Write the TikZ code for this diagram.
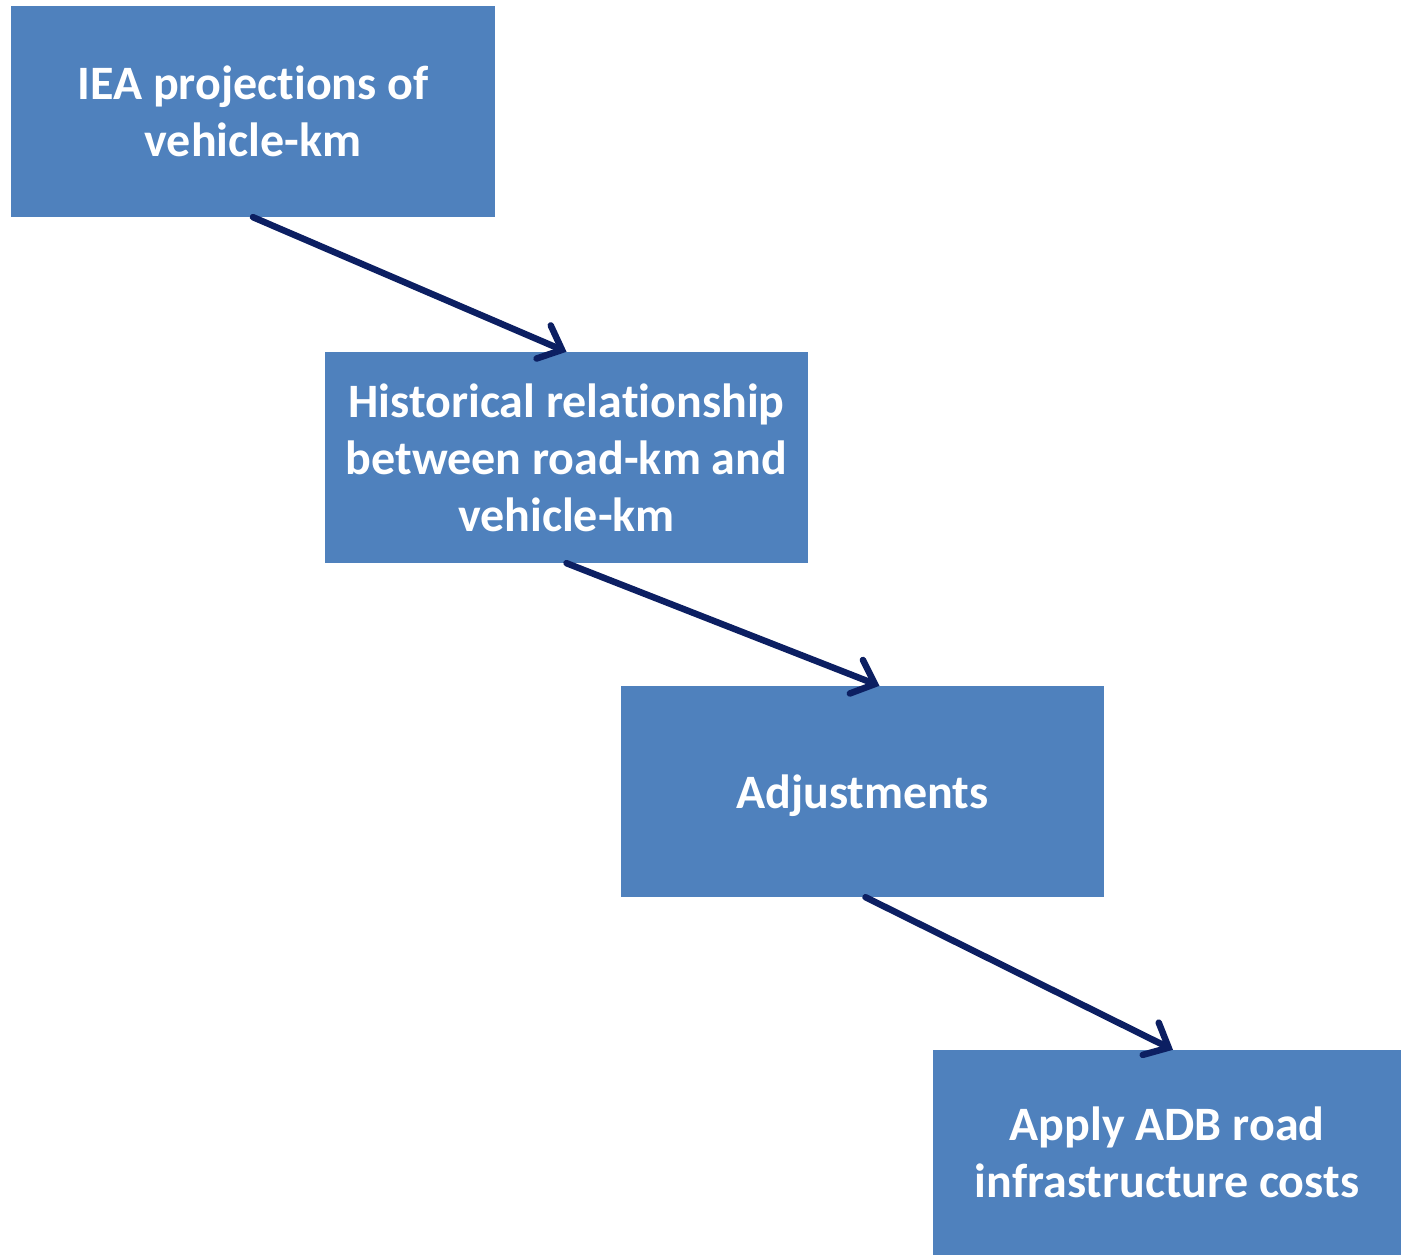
\documentclass[tikz,border=0pt]{standalone}
\usepackage{fontspec}
\setmainfont[Ligatures={NoCommon,NoRare}]{Carlito}
\usetikzlibrary{arrows.meta,calc}
\definecolor{boxblue}{HTML}{4F81BD}
\definecolor{navy}{HTML}{0C1F62}
\begin{document}
\begin{tikzpicture}[x=1pt,y=-1pt,
  box/.style={fill=boxblue,draw=none,inner sep=0pt,text=white,align=center,
    font=\fontsize{48}{57}\selectfont\bfseries},
  conn/.style={draw=navy,line width=6.5pt,line cap=round,
    -{Straight Barb[length=20pt,width=36pt,line width=6.5pt,line cap=round]}}]
\useasboundingbox (0,0) rectangle (1401,1255);
\node[box,minimum width=484pt,minimum height=211pt] (a) at (253,111.5) {IEA projections of\\vehicle-km};
\node[box,minimum width=483pt,minimum height=211pt] (b) at (566.5,457.5) {Historical relationship\\between road-km and\\vehicle-km};
\node[box,minimum width=483pt,minimum height=211pt] (c) at (862.5,791.5) {\raisebox{-4pt}[\height][\depth]{Adjustments}};
\node[box,minimum width=468pt,minimum height=205pt] (d) at (1167,1152.5) {Apply ADB road\\infrastructure costs};
\draw[conn] (a.south) -- (b.north);
\draw[conn] (b.south) -- ($(c.north)+(17,0)$);
\draw[conn] ($(c.south)+(3,0)$) -- ($(d.north)+(6,0)$);
\end{tikzpicture}
\end{document}
